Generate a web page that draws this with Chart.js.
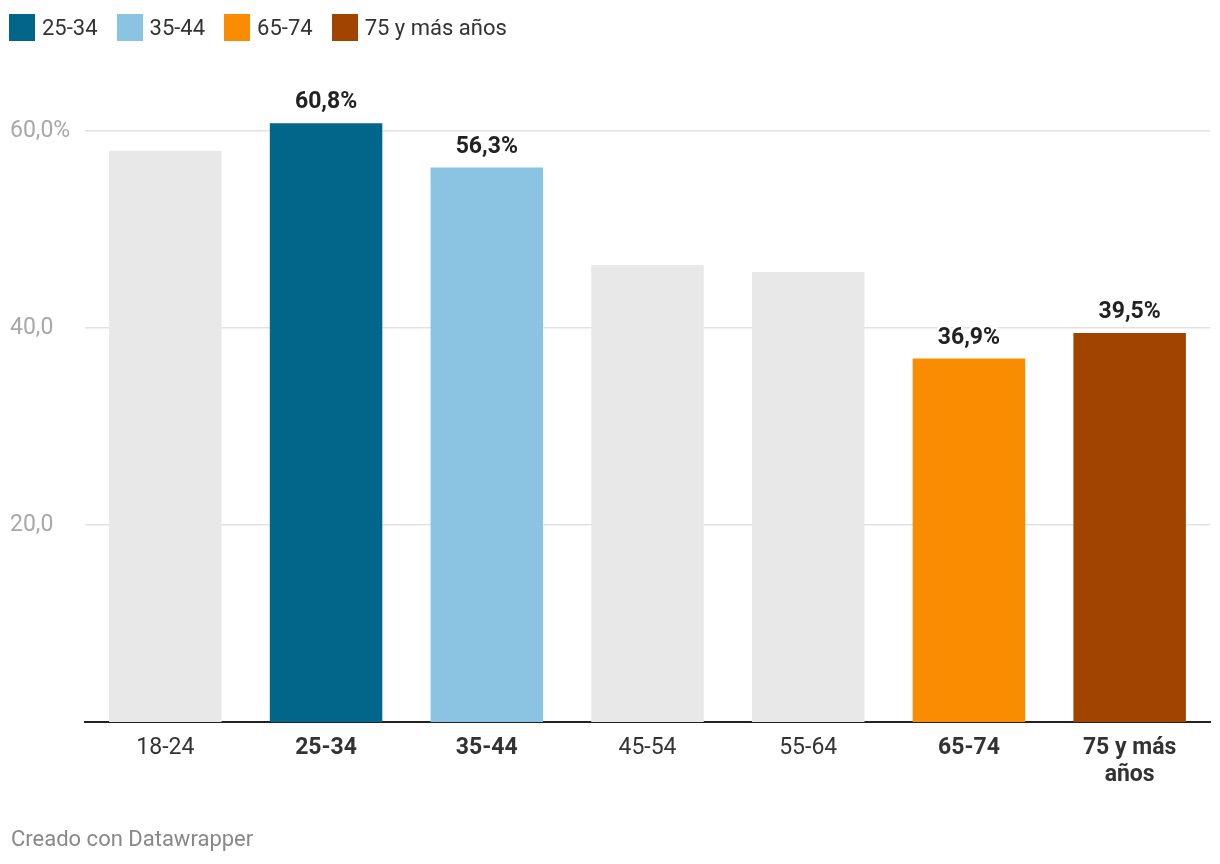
<!DOCTYPE html>
<html>
<head>
<meta charset="utf-8">
<script src="https://cdn.jsdelivr.net/npm/chart.js@4.4.1/dist/chart.umd.min.js"></script>
<style>
  html, body { margin: 0; padding: 0; background: #fff; }
  body { width: 1220px; height: 864px; position: relative; overflow: hidden; font-family: Roboto, sans-serif; }
  #chart { position: absolute; left: 0; top: 0; }
  .legend { position: absolute; left: 9px; top: 14px; display: flex; align-items: center; }
  .legend-item { display: flex; align-items: center; margin-right: 19px; font-size: 22px; color: #333; }
  .legend-box { width: 26px; height: 27px; margin-right: 7px; }
  .footer { position: absolute; left: 11px; top: 826px; font-size: 22px; color: #888; }
</style>
</head>
<body>
<canvas id="chart" width="1220" height="864"></canvas>
<div class="legend" id="legend"></div>
<div class="footer">Creado con Datawrapper</div>
<script>
  // Datos
  const categories = ['18-24', '25-34', '35-44', '45-54', '55-64', '65-74', ['75 y más', 'años']];
  const values = [58.0, 60.8, 56.3, 46.4, 45.7, 36.9, 39.5];
  const highlighted = [false, true, true, false, false, true, true];
  const barColors = ['#e8e8e8', '#01668a', '#8ac4e2', '#e8e8e8', '#e8e8e8', '#f98c00', '#a04400'];
  const yTicks = [20, 40, 60];
  const yTickLabels = ['20,0', '40,0', '60,0%'];

  function fmt(v) {
    return v.toFixed(1).replace('.', ',') + '%';
  }

  // Leyenda HTML con las categorías destacadas
  const legend = document.getElementById('legend');
  categories.forEach((c, i) => {
    if (!highlighted[i]) return;
    const item = document.createElement('div');
    item.className = 'legend-item';
    const box = document.createElement('span');
    box.className = 'legend-box';
    box.style.background = barColors[i];
    item.appendChild(box);
    item.appendChild(document.createTextNode(Array.isArray(c) ? c.join(' ') : c));
    legend.appendChild(item);
  });

  // Etiquetas de valor sobre las barras destacadas
  const valueLabels = {
    id: 'valueLabels',
    afterDatasetsDraw(chart) {
      const ctx = chart.ctx;
      const meta = chart.getDatasetMeta(0);
      ctx.save();
      ctx.font = 'bold 23px Roboto, sans-serif';
      ctx.textAlign = 'center';
      ctx.textBaseline = 'alphabetic';
      ctx.lineJoin = 'round';
      meta.data.forEach((bar, i) => {
        if (!highlighted[i]) return;
        const txt = fmt(values[i]);
        ctx.strokeStyle = '#fff';
        ctx.lineWidth = 5;
        ctx.strokeText(txt, bar.x, bar.y - 15);
        ctx.fillStyle = '#222';
        ctx.fillText(txt, bar.x, bar.y - 15);
      });
      ctx.restore();
    }
  };

  new Chart(document.getElementById('chart'), {
    type: 'bar',
    data: {
      labels: categories,
      datasets: [{
        data: values,
        backgroundColor: barColors,
        borderWidth: 0,
        categoryPercentage: 1,
        barPercentage: 0.7
      }]
    },
    options: {
      responsive: false,
      animation: false,
      layout: { padding: { top: 72, left: 10, right: 10, bottom: 0 } },
      plugins: {
        legend: { display: false },
        tooltip: { enabled: false }
      },
      scales: {
        x: {
          afterFit: s => { s.height = 142; },
          grid: { display: false, drawTicks: false },
          border: { display: true, color: '#222', width: 2 },
          ticks: {
            padding: 12,
            color: '#333',
            maxRotation: 0,
            autoSkip: false,
            font: ctx => ({
              family: 'Roboto, sans-serif',
              size: 23,
              lineHeight: 1.2,
              weight: highlighted[ctx.index] ? 'bold' : 'normal'
            })
          }
        },
        y: {
          min: 0,
          max: 66,
          afterFit: s => { s.width = 75; },
          afterBuildTicks: s => { s.ticks = yTicks.map(v => ({ value: v })); },
          border: { display: false },
          grid: { color: '#e2e2e2', lineWidth: 1.5, drawTicks: false },
          ticks: {
            crossAlign: 'far',
            color: '#a8a8a8',
            font: { family: 'Roboto, sans-serif', size: 23 },
            callback: v => yTickLabels[yTicks.indexOf(v)]
          }
        }
      }
    },
    plugins: [valueLabels]
  });
</script>
</body>
</html>
